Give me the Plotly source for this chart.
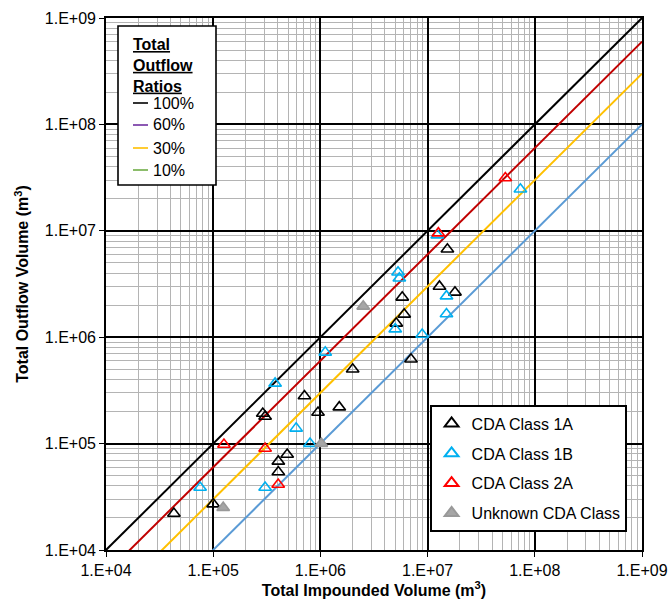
import plotly.graph_objects as go

# ---------------- data ----------------
ratio_values = [1.0, 0.6, 0.3, 0.1]
ratio_labels = ["100%", "60%", "30%", "10%"]
ratio_line_colors = ["#000000", "#C00000", "#FFC000", "#5B9BD5"]
ratio_legend_colors = ["#000000", "#7030A0", "#FFC000", "#70AD47"]
line_x = [1e4, 1e9]

class1a_x = [4.3e4, 1.0e5, 2.9e5, 3.05e5, 7.1e5, 9.5e5, 1.5e6, 4.05e5, 4.9e5, 4.05e5,
             2.0e6, 7.0e6, 5.8e6, 6.05e6, 5.1e6, 1.29e7, 1.8e7, 1.53e7]
class1a_y = [2.2e4, 2.7e4, 1.92e5, 1.8e5, 2.8e5, 1.96e5, 2.2e5, 6.8e4, 7.9e4, 5.4e4,
             5.0e5, 6.2e5, 2.37e6, 1.64e6, 1.35e6, 3.0e6, 2.64e6, 6.7e6]

class1b_x = [7.55e4, 3.05e5, 3.78e5, 5.94e5, 8.0e5, 1.11e6, 5.3e6, 5.45e6, 4.99e6, 8.9e6,
             1.5e7, 1.5e7, 1.23e7, 7.34e7]
class1b_y = [3.87e4, 3.87e4, 3.68e5, 1.39e5, 1.0e5, 7.2e5, 4.08e6, 3.58e6, 1.19e6, 1.06e6,
             2.43e6, 1.65e6, 9.1e6, 2.46e7]

class2a_x = [1.26e5, 3.05e5, 4.04e5, 1.26e7, 5.31e7]
class2a_y = [9.8e4, 9.0e4, 4.13e4, 9.5e6, 3.13e7]

unknown_x = [1.24e5, 1.02e6, 2.51e6]
unknown_y = [2.5e4, 1.0e5, 1.95e6]

tick_vals = [1e4, 1e5, 1e6, 1e7, 1e8, 1e9]
tick_text = ["1.E+04", "1.E+05", "1.E+06", "1.E+07", "1.E+08", "1.E+09"]
minor_vals = [k * 10 ** n for n in range(4, 9) for k in range(2, 10)]

FONT = "Arial, Liberation Sans, sans-serif"

# ---------------- geometry helpers ----------------
W, H = 668, 602
ML, MR, MT, MB = 106, 26, 18, 52
PW, PH = W - ML - MR, H - MT - MB


def px(x):
    return (x - ML) / PW


def py(y):
    return (H - MB - y) / PH


fig = go.Figure()

# ratio lines
for r, c in zip(ratio_values, ratio_line_colors):
    fig.add_trace(go.Scatter(
        x=line_x, y=[v * r for v in line_x], mode="lines",
        line=dict(color=c, width=2), showlegend=False, hoverinfo="skip"))

series = [
    ("CDA Class 1A", class1a_x, class1a_y, "triangle-up-open", "#000000", "#000000"),
    ("CDA Class 1B", class1b_x, class1b_y, "triangle-up-open", "#00B0F0", "#00B0F0"),
    ("CDA Class 2A", class2a_x, class2a_y, "triangle-up-open", "#FF0000", "#FF0000"),
    ("Unknown CDA Class", unknown_x, unknown_y, "triangle-up", "#A6A6A6", "#999999"),
]
for name, xs, ys, sym, col, lcol in series:
    fig.add_trace(go.Scatter(
        x=xs, y=ys, mode="markers", name=name, legendgroup=name,
        marker=dict(symbol=sym, size=11, color=col,
                    line=dict(color=lcol, width=1.6))))

axis_common = dict(
    type="log", tickmode="array", tickvals=tick_vals, ticktext=tick_text,
    showgrid=True, gridcolor="#000000", gridwidth=1.6,
    minor=dict(tickmode="array", tickvals=minor_vals, showgrid=True,
               gridcolor="#B4B4B4", gridwidth=1, ticks=""),
    showline=True, linecolor="#000000", linewidth=1.6, mirror=True,
    ticks="outside", ticklen=5, tickcolor="#000000",
    tickfont=dict(family=FONT, size=16, color="#000000"),
    zeroline=False, automargin=False,
)

fig.update_xaxes(range=[4, 9], ticklabeloverflow="allow", **axis_common,
                 title=dict(text="<b>Total Impounded Volume (m<sup>3</sup>)</b>",
                            font=dict(family=FONT, size=16, color="#000000"),
                            standoff=6))
fig.update_yaxes(range=[4, 9], **axis_common,
                 title=dict(text="<b>Total Outflow Volume (m<sup>3</sup>)</b>",
                            font=dict(family=FONT, size=16, color="#000000"),
                            standoff=12))

# ---------------- manual "Total Outflow Ratios" legend ----------------
shapes = [dict(type="rect", xref="paper", yref="paper",
               x0=px(118), x1=px(216), y0=py(185), y1=py(26),
               fillcolor="white", line=dict(color="#000000", width=1.6), layer="above")]
annotations = [dict(xref="paper", yref="paper", x=px(131), y=py(34),
                    xanchor="left", yanchor="top", showarrow=False, align="left",
                    text="<b><u>Total</u></b><br><b><u>Outflow</u></b><br><b><u>Ratios</u></b>",
                    font=dict(family=FONT, size=16, color="#000000"))]
row_y = [103, 125, 148, 170]
for lab, c, yy in zip(ratio_labels, ratio_legend_colors, row_y):
    shapes.append(dict(type="line", xref="paper", yref="paper",
                       x0=px(133), x1=px(148), y0=py(yy), y1=py(yy),
                       line=dict(color=c, width=1.6), layer="above"))
    annotations.append(dict(xref="paper", yref="paper", x=px(151), y=py(yy),
                            xanchor="left", yanchor="middle", showarrow=False,
                            text=lab, font=dict(family=FONT, size=16, color="#000000")))

fig.update_layout(
    width=W, height=H,
    margin=dict(l=ML, r=MR, t=MT, b=MB),
    paper_bgcolor="white", plot_bgcolor="white",
    font=dict(family=FONT, size=16, color="#000000"),
    shapes=shapes, annotations=annotations,
    legend=dict(x=px(430), y=py(405), xanchor="left", yanchor="top",
                bgcolor="white", bordercolor="#000000", borderwidth=1.6,
                font=dict(family=FONT, size=16, color="#000000"),
                tracegroupgap=6, itemsizing="constant"),
    showlegend=True,
)

fig.write_html(
    "out.html",
    config={"displayModeBar": False},
    post_script="document.body.style.margin='0';document.body.style.overflow='hidden';",
)
